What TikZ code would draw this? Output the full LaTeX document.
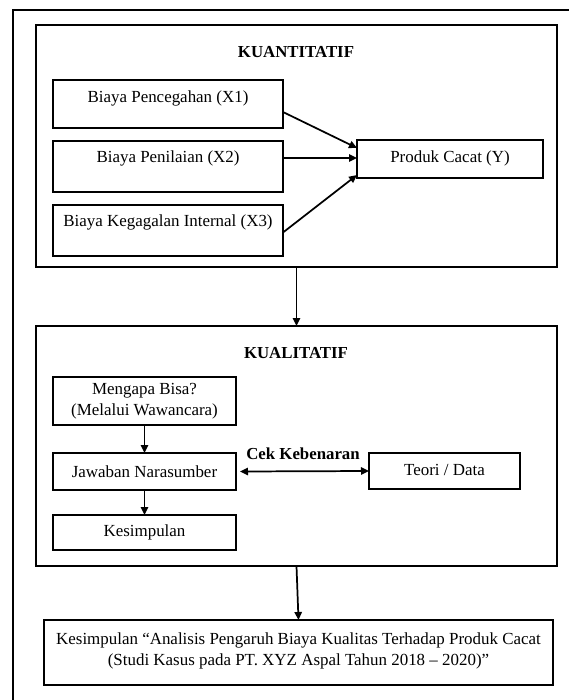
\documentclass[tikz,border=0pt]{standalone}
\usepackage{fontspec}
\setmainfont{Liberation Serif}
\usetikzlibrary{calc,arrows.meta}
\begin{document}
\begin{tikzpicture}[x=0.75pt,y=-0.75pt,
  box/.style={draw,line width=1.4pt,inner sep=0pt,outer sep=0pt},
  txt/.style={inner sep=0pt,font=\fontsize{12.7}{15.5}\selectfont,align=center},
  ttl/.style={inner sep=0pt,font=\fontsize{12.6}{15}\selectfont\bfseries},
  arr/.style={line width=1.3pt,-{Triangle[length=6pt,width=5.5pt]}},
  darr/.style={line width=1.3pt,{Triangle[length=6pt,width=5.5pt]}-{Triangle[length=6pt,width=5.5pt]}}]
\useasboundingbox (0,0) rectangle (568,700);
% outer frame (cropped)
\coordinate (oa) at (13,10);
\coordinate (ob) at (570,10);
\coordinate (oc) at (13,702);
\draw[line width=1.7pt] (ob) -- (oa) -- (oc);
% KUANTITATIF
\node[box,minimum width={521*0.75pt},minimum height={242*0.75pt}] (kuan) at (296.5,146) {};
\node[ttl] (kuant) at (296,52) {KUANTITATIF};
\node[box,minimum width={230*0.75pt},minimum height={48*0.75pt}] (x1) at (168,104) {};
\node[box,minimum width={230*0.75pt},minimum height={51*0.75pt}] (x2) at (168,166.5) {};
\node[box,minimum width={230*0.75pt},minimum height={51*0.75pt}] (x3) at (168,230.5) {};
\node[txt] (x1t) at (168,98) {Biaya Pencegahan (X1)};
\node[txt] (x2t) at (168,158) {Biaya Penilaian (X2)};
\node[txt] (x3t) at (168,222) {Biaya Kegagalan Internal (X3)};
\node[box,minimum width={186*0.75pt},minimum height={38*0.75pt}] (yb) at (450,159) {};
\node[txt] (ybt) at (450,158) {Produk Cacat (Y)};
\draw[arr] ($(x1.east)+(0,8)$) -- ($(yb.west)+(0,-11)$);
\draw[arr] ($(x2.east)+(0,-8.5)$) -- ($(yb.west)+(0,-1)$);
\draw[arr] ($(x3.east)+(0,2)$) -- ($(yb.west)+(0,16)$);
% KUALITATIF
\node[box,minimum width={521*0.75pt},minimum height={240*0.75pt}] (kual) at (296.5,446) {};
\draw[arr] (kuan.south) -- (kual.north);
\node[ttl] (kualt) at (296,353) {KUALITATIF};
\node[box,minimum width={183*0.75pt},minimum height={48*0.75pt}] (meng) at (144.5,401) {};
\node[txt] (mengt) at (144.5,401) {Mengapa Bisa?\\(Melalui Wawancara)};
\node[box,minimum width={183*0.75pt},minimum height={37*0.75pt}] (jaw) at (144.5,471.5) {};
\node[txt] (jawt) at (144.5,471.5) {Jawaban Narasumber};
\node[box,minimum width={183*0.75pt},minimum height={35*0.75pt}] (kes) at (144.5,532.5) {};
\node[txt] (kest) at (144.5,532.5) {Kesimpulan};
\node[box,minimum width={151*0.75pt},minimum height={36*0.75pt}] (teori) at (444.5,471) {};
\node[txt] (teorit) at (444.5,470) {Teori / Data};
\draw[arr] (meng.south) -- (jaw.north);
\draw[arr] (jaw.south) -- (kes.north);
\draw[darr] ($(jaw.east)+(4,0)$) -- (teori.west);
\node[ttl] (cek) at (303,454) {Cek Kebenaran};
% final
\node[box,minimum width={509*0.75pt},minimum height={65*0.75pt}] (fin) at (298.5,652.5) {};
\node[txt] (fint) at (298.5,651) {Kesimpulan ``Analisis Pengaruh Biaya Kualitas Terhadap Produk Cacat\\(Studi Kasus pada PT. XYZ Aspal Tahun 2018 -- 2020)''};
\draw[arr] (kual.south) -- (fin.north);
\end{tikzpicture}
\end{document}
